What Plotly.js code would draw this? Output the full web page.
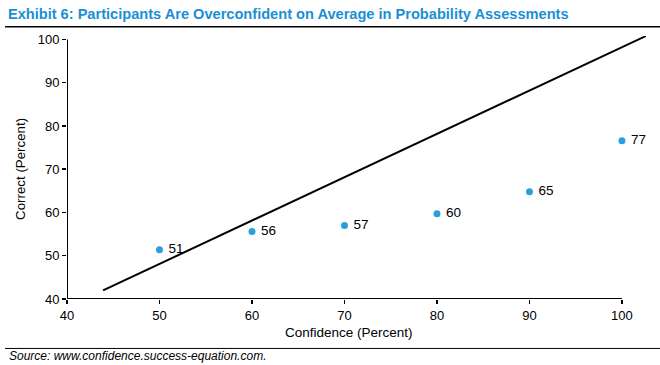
<!DOCTYPE html>
<html>
<head>
<meta charset="utf-8">
<script src="https://cdn.plot.ly/plotly-3.0.1.min.js"></script>
<style>html,body{margin:0;padding:0;background:#fff;}#chart{width:660px;height:365px;}</style>
</head>
<body>
<div id="chart"></div>
<script>
// Data
const confidence = [50, 60, 70, 80, 90, 100];
const correct = [51.4, 55.6, 57.0, 59.7, 64.8, 76.6];
const pointLabels = ["51", "56", "57", "60", "65", "77"];
const diagX = [43.9, 102.6];
const diagY = [42.0, 100.8];
const tickVals = [40, 50, 60, 70, 80, 90, 100];

const font = "Liberation Sans, Arial, sans-serif";

const traces = [
  {
    x: diagX, y: diagY, type: "scatter", mode: "lines",
    line: {color: "#000", width: 2}, hoverinfo: "skip", showlegend: false
  },
  {
    x: confidence, y: correct, type: "scatter", mode: "markers+text",
    marker: {color: "#2a9fdb", size: 7},
    text: pointLabels.map(t => " " + t), textposition: "middle right",
    textfont: {family: font, size: 13.5, color: "#000"},
    cliponaxis: false, showlegend: false
  }
];

const layout = {
  width: 660, height: 365,
  margin: {l: 67, r: 14, t: 36, b: 66},
  paper_bgcolor: "#fff", plot_bgcolor: "#fff",
  font: {family: font, color: "#000"},
  title: {
    text: "<b>Exhibit 6: Participants Are Overconfident on Average in Probability Assessments</b>",
    font: {family: font, size: 14.6, color: "#1a8fd6"},
    xref: "container", yref: "container", x: 0.012, xanchor: "left", y: 0.962, yanchor: "middle"
  },
  xaxis: {
    range: [40, 102.6], tickvals: tickVals, ticks: "outside", ticklen: 4, tickwidth: 1.5, tickcolor: "#000",
    showgrid: false, zeroline: false, showline: false,
    tickfont: {family: font, size: 13, color: "#000"}
  },
  yaxis: {
    range: [40, 100.8], tickvals: tickVals, ticks: "outside", ticklen: 4, tickwidth: 1.5, tickcolor: "#000",
    showgrid: false, zeroline: false, showline: false,
    tickfont: {family: font, size: 13, color: "#000"}
  },
  shapes: [
    {type: "line", xref: "x", yref: "y", x0: 40, x1: 100, y0: 40, y1: 40, line: {color: "#000", width: 2}},
    {type: "line", xref: "x", yref: "y", x0: 40, x1: 40, y0: 40, y1: 100, line: {color: "#000", width: 2}},
    {type: "line", xref: "paper", yref: "paper", x0: -0.107, x1: 1.03, y0: 1.035, y1: 1.035, line: {color: "#000", width: 1.5}},
    {type: "line", xref: "paper", yref: "paper", x0: -0.107, x1: 1.03, y0: -0.188, y1: -0.188, line: {color: "#000", width: 1}}
  ],
  annotations: [
    {
      text: "Confidence (Percent)", xref: "x", yref: "paper", x: 70.5, y: -0.128,
      xanchor: "center", yanchor: "middle", showarrow: false,
      font: {family: font, size: 13.5, color: "#000"}
    },
    {
      text: "Correct (Percent)", xref: "paper", yref: "y", x: -0.08, y: 70,
      xanchor: "center", yanchor: "middle", textangle: -90, showarrow: false,
      font: {family: font, size: 13.3, color: "#000"}
    },
    {
      text: "<i>Source: www.confidence.success-equation.com.</i>",
      xref: "paper", yref: "paper", x: -0.104, y: -0.218, xanchor: "left", yanchor: "middle",
      showarrow: false, font: {family: font, size: 12, color: "#000"}
    }
  ]
};

Plotly.newPlot("chart", traces, layout, {displayModeBar: false, staticPlot: true});
</script>
</body>
</html>
